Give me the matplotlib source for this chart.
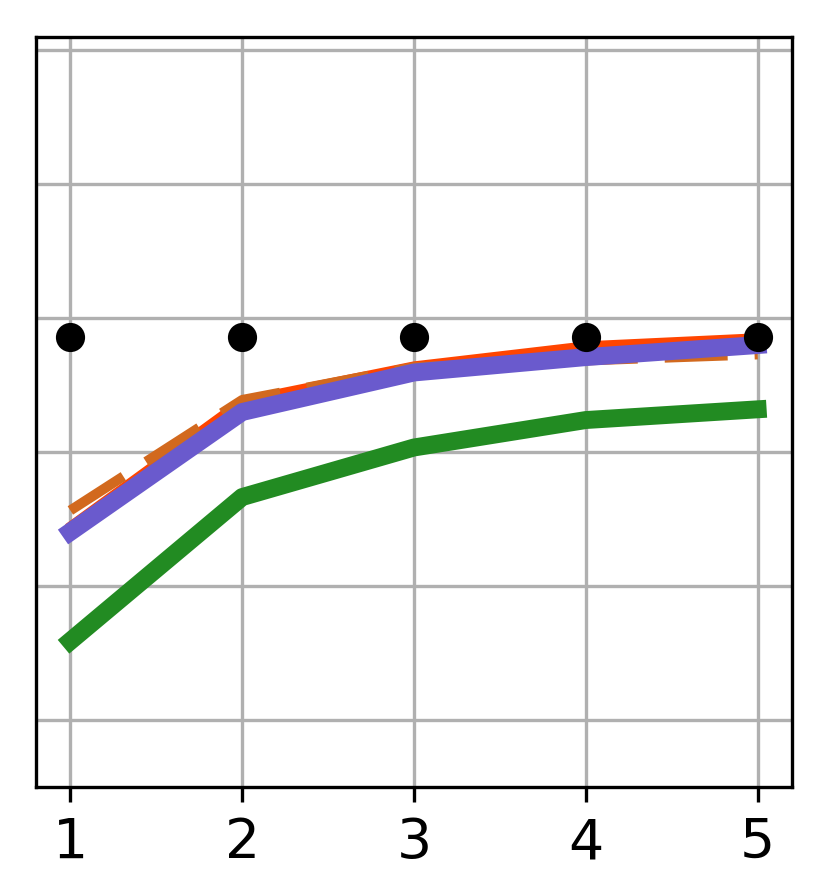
import numpy as np
import matplotlib
matplotlib.use("Agg")
import matplotlib.pyplot as plt

x = [1, 2, 3, 4, 5]
dots = [0.572, 0.572, 0.572, 0.572, 0.572]
red = [0.291, 0.478, 0.530, 0.560, 0.572]
brown = [0.313, 0.478, 0.527, 0.537, 0.546]
blue = [0.281, 0.460, 0.519, 0.542, 0.560]
green = [0.118, 0.333, 0.407, 0.448, 0.464]

fig = plt.figure(figsize=(829 / 300, 889 / 300), dpi=300)
ax = fig.add_axes([36 / 829, 102 / 889, 756 / 829, 750 / 889])

ax.plot(x, red, color="orangered", lw=1.8)
ax.plot(x, brown, color="chocolate", lw=2.4, dashes=(6.3, 2.7))
ax.plot(x, blue, color="slateblue", lw=4.3)
ax.plot(x, green, color="forestgreen", lw=4.3)
ax.plot(x, dots, "o", color="black", ms=6.0, ls="none")

ax.set_xlim(0.8, 5.2)
ax.set_ylim(-0.1, 1.02)
ax.set_xticks(x)
ax.set_yticks([0, 0.2, 0.4, 0.6, 0.8, 1.0])
ax.set_yticklabels([])
ax.tick_params(axis="y", length=0)
ax.tick_params(axis="x", labelsize=13.3)
ax.grid(True, color="#b0b0b0", lw=0.8)
ax.set_axisbelow(True)

fig.savefig("out.png", dpi=300)
